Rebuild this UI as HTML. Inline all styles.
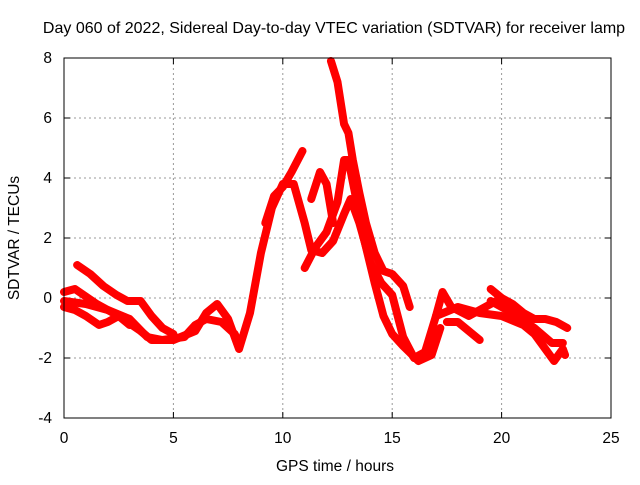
<!DOCTYPE html>
<html><head><meta charset="utf-8"><style>
body{margin:0;background:#fff}
svg text{font-family:"Liberation Sans",sans-serif;font-size:15.5px;fill:#000}
</style></head><body>
<svg id="chart" width="640" height="480">
<rect x="0" y="0" width="640" height="480" fill="#fff"/>
<text x="334" y="33" text-anchor="middle" style="font-size:16px">Day 060 of 2022, Sidereal Day-to-day VTEC variation (SDTVAR) for receiver lamp</text>
<text x="335" y="471" text-anchor="middle">GPS time / hours</text>
<text transform="translate(19,238) rotate(-90)" text-anchor="middle">SDTVAR / TECUs</text>
<g id="grid"></g><g id="ticks"></g><g id="series"></g>
<rect x="64" y="58" width="547" height="360" fill="none" stroke="#000" stroke-width="1"/>
</svg>
<script>
const xTicks=[0,5,10,15,20,25];
const yTicks=[-4,-2,0,2,4,6,8];
const s1=[[0,0.2],[0.5,0.3],[1.5,-0.2],[2.5,-0.6],[3.5,-1.1],[4,-1.4],[5,-1.4],[6,-1.1],[6.5,-0.5],[7,-0.2],[7.5,-0.7],[8,-1.7],[8.5,-0.5],[9,1.5],[9.5,3.0],[10,3.8],[10.5,3.8],[11,2.5],[11.3,1.6],[11.8,1.5],[12.3,1.9],[12.8,2.8],[13.1,3.3],[13.5,2.5],[14,1.2],[14.5,0.5],[15,0.1],[15.5,-1.3],[16,-2.0],[16.5,-1.8],[17,-0.6],[17.3,0.2],[17.7,-0.3],[18.5,-0.6],[19,-0.4],[19.5,-0.2],[20,0],[20.5,-0.5]];
const s2=[[0,-0.1],[1,-0.2],[2,-0.4],[3,-0.7],[3.8,-1.3],[4.5,-1.4],[5.5,-1.3],[6,-0.9],[6.5,-0.7],[7.2,-0.8],[7.8,-1.2],[8,-1.5]];
const s3=[[0.6,1.1],[1.2,0.8],[1.8,0.4],[2.4,0.1],[2.9,-0.1],[3.5,-0.1],[4,-0.6],[4.5,-1.0],[5,-1.2]];
const s4=[[12.2,7.9],[12.5,7.2],[12.8,5.8],[13,5.5],[13.2,4.6],[13.5,3.5],[13.8,2.5],[14.2,1.5],[14.6,0.9],[15,0.8],[15.5,0.4],[15.8,-0.3]];
const s5=[[9.2,2.5],[9.6,3.4],[10,3.7],[10.4,4.2],[10.9,4.9]];
const s6=[[11.3,3.3],[11.7,4.2],[12,3.8],[12.3,2.5]];
const s7=[[11,1.0],[11.5,1.7],[12,2.2],[12.5,3.2],[12.8,4.6],[13,4.6],[13.3,3.5],[13.7,2.0],[14.2,0.5],[14.6,-0.6],[15,-1.2],[15.5,-1.6],[16.2,-2.1],[16.8,-1.9],[17.2,-1.0]];
const s8=[[19.5,0.3],[20,0],[20.5,-0.2],[21,-0.5],[21.5,-0.7],[22,-0.7],[22.5,-0.8],[23,-1.0]];
const s9=[[17,-0.6],[18,-0.3],[19,-0.5],[20,-0.6],[21,-0.9],[21.5,-1.2],[22,-1.7],[22.4,-2.1],[22.8,-1.7],[22.9,-1.9]];
const s10=[[17.5,-0.8],[18,-0.8],[19,-1.4]];
const s11=[[19.5,-0.1],[20.5,-0.5],[21.5,-1.0],[22.3,-1.5],[22.8,-1.5]];
const s12=[[0,-0.3],[0.5,-0.4],[1,-0.6],[1.6,-0.9],[2,-0.8],[2.5,-0.6],[3,-0.9]];
const allSeries=[s1,s2,s3,s4,s5,s6,s7,s8,s9,s10,s11,s12];
const X=t=>64+t*547/25, Y=v=>418-(v+4)*30;
const NS='http://www.w3.org/2000/svg';
const grid=document.getElementById('grid'),ticks=document.getElementById('ticks'),ser=document.getElementById('series');
function mk(tag,attrs,parent){const e=document.createElementNS(NS,tag);for(const k in attrs)e.setAttribute(k,attrs[k]);parent.appendChild(e);return e;}
xTicks.forEach(t=>{
  if(t>0&&t<25){const g=mk('line',{x1:X(t),x2:X(t),y1:58,y2:418,stroke:'#999','stroke-dasharray':'2,3'},grid);
  
  }
  const l=mk('text',{x:X(t),y:443,'text-anchor':'middle'},ticks);l.textContent=t;
  
  
  mk('line',{x1:X(t),x2:X(t),y1:418,y2:412,stroke:'#000'},ticks);
  mk('line',{x1:X(t),x2:X(t),y1:58,y2:64,stroke:'#000'},ticks);
});
yTicks.forEach(v=>{
  if(v>-4&&v<8){const g=mk('line',{x1:64,x2:611,y1:Y(v),y2:Y(v),stroke:'#999','stroke-dasharray':'2,3'},grid);
  
  }
  const l=mk('text',{x:52,y:Y(v)+5,'text-anchor':'end'},ticks);l.textContent=v;
  
  
  mk('line',{x1:64,x2:70,y1:Y(v),y2:Y(v),stroke:'#000'},ticks);
  mk('line',{x1:611,x2:605,y1:Y(v),y2:Y(v),stroke:'#000'},ticks);
});
allSeries.forEach((s,i)=>{
  const p=mk('polyline',{points:s.map(d=>X(d[0])+','+Y(d[1])).join(' '),fill:'none',stroke:'#f00','stroke-width':8,'stroke-linejoin':'round','stroke-linecap':'round'},ser);
  
  
});
</script>
</body></html>
